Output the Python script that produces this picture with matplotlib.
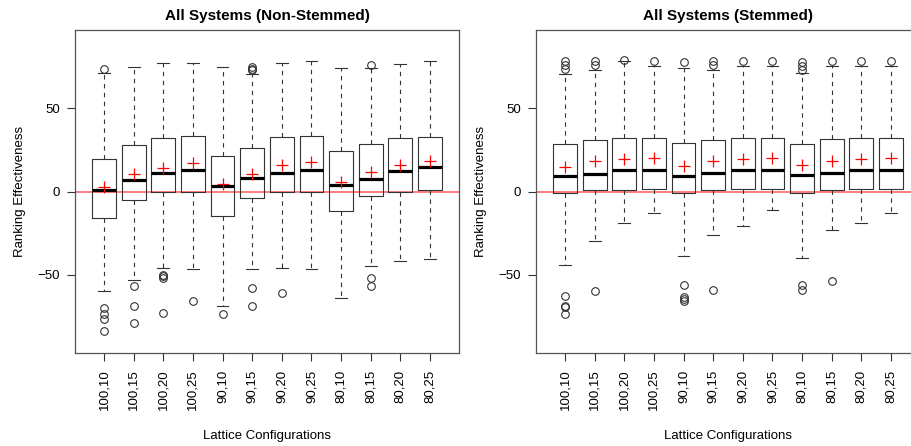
import matplotlib.pyplot as plt
from matplotlib import rcParams

rcParams['font.family'] = ['Liberation Sans', 'DejaVu Sans']

# 格子配置
configs = ["100,10", "100,15", "100,20", "100,25", "90,10", "90,15",
           "90,20", "90,25", "80,10", "80,15", "80,20", "80,25"]

# Non-Stemmed
ns_q1 = [-16, -5, 0, 0, -15, -4, 0, 0, -11.5, -3, 0, 0.8]
ns_med = [0.8, 7.2, 11.2, 13, 3.4, 8.3, 11.2, 13, 3.8, 7.8, 12.2, 14.5]
ns_q3 = [19.6, 27.7, 31.9, 33.7, 21.5, 26.3, 32.9, 33.7, 24.1, 28.3, 32.5, 32.9]
ns_lo = [-60, -53, -46, -46.8, -68.9, -46.8, -46, -46.8, -63.9, -45, -41.8, -40.8]
ns_hi = [71.3, 75, 77.5, 77.5, 75, 71, 77.5, 78.3, 74.3, 74.3, 76.5, 78.3]
ns_mean = [3, 10.8, 14.4, 17.2, 4.8, 10.8, 15.8, 17.6, 5.8, 11.8, 16.1, 18.4]
ns_out = [[74, -70, -73.5, -77, -84], [-57, -69, -79], [-50, -51, -52, -73], [-66],
          [-74], [73, 74, 75, -58, -69], [-61], [], [], [76, -52, -57], [], []]

# Stemmed
st_q1 = [-0.8, 0.8, 0.8, 1.8, -0.8, 0.8, 1.8, 1.8, -0.8, 0.8, 1.8, 1.8]
st_med = [9.6, 10.4, 12.7, 12.7, 9.4, 11, 12.7, 12.7, 10.2, 11.4, 12.7, 12.7]
st_q3 = [28.7, 30.7, 32.5, 32.5, 29.3, 30.7, 31.9, 32.5, 28.7, 31.3, 31.9, 32.5]
st_lo = [-44, -29.8, -18.7, -12.7, -39, -25.9, -20.9, -10.9, -40, -22.9, -18.7, -12.7]
st_hi = [70.5, 73.3, 78.7, 75.7, 74.1, 73.3, 75.7, 75.7, 71.4, 75.7, 75.7, 75.7]
st_mean = [14.8, 18.1, 19.3, 19.9, 15.4, 18.3, 19.5, 20.3, 15.8, 18.4, 19.3, 20]
st_out = [[74, 76.3, 78.7, -63, -69, -69.5, -74], [76.3, 78.7, -60], [79], [78.7],
          [78.2, -56, -63.5, -65, -66], [76.3, 78.7, -59], [78.7], [78.7],
          [73, 75.4, 78.2, -56, -59], [78.7, -54], [78.7], [78.7]]

line_col = '#333333'


def draw_panel(ax, title, q1, med, q3, lo, hi, mean, out):
    stats = []
    for i in range(len(configs)):
        stats.append({'q1': q1[i], 'med': med[i], 'q3': q3[i], 'whislo': lo[i],
                      'whishi': hi[i], 'mean': mean[i], 'fliers': out[i]})
    ax.bxp(stats, positions=range(1, len(configs) + 1), widths=0.8, capwidths=0.4,
           showmeans=True,
           boxprops=dict(color=line_col, linewidth=0.8),
           medianprops=dict(color='black', linewidth=2.3, solid_capstyle='butt'),
           whiskerprops=dict(color=line_col, linewidth=0.8, linestyle=(0, (4, 4))),
           capprops=dict(color=line_col, linewidth=0.8),
           flierprops=dict(marker='o', markersize=5.5, markerfacecolor='none',
                           markeredgecolor=line_col, markeredgewidth=0.8),
           meanprops=dict(marker='+', markersize=8, markeredgecolor='red',
                          markeredgewidth=0.9))
    ax.axhline(0, color='red', alpha=0.55, linewidth=1.3, zorder=0)
    ax.set_xlim(0.02, 12.98)
    ax.set_ylim(-97.2, 97.2)
    ax.set_yticks([-50, 0, 50])
    ax.set_xticks(range(1, len(configs) + 1))
    ax.set_xticklabels(configs, rotation=90, fontsize=9.5)
    ax.tick_params(axis='y', labelsize=9.5, length=6, color=line_col, pad=5)
    ax.tick_params(axis='x', length=6, color=line_col, pad=6)
    for s in ax.spines.values():
        s.set_color('#555555')
        s.set_linewidth(0.9)
    ax.set_title(title, fontsize=11, fontweight='bold', pad=7)
    ax.set_xlabel('Lattice Configurations', fontsize=9.5, labelpad=14)
    ax.set_ylabel('Ranking Effectiveness', fontsize=9.5, labelpad=8)


fig = plt.figure(figsize=(9.12, 4.46), dpi=100)
ax1 = fig.add_axes([75 / 912, 93 / 446, 384 / 912, 323 / 446])
ax2 = fig.add_axes([536 / 912, 93 / 446, 384 / 912, 323 / 446])

draw_panel(ax1, 'All Systems (Non-Stemmed)', ns_q1, ns_med, ns_q3, ns_lo, ns_hi, ns_mean, ns_out)
draw_panel(ax2, 'All Systems (Stemmed)', st_q1, st_med, st_q3, st_lo, st_hi, st_mean, st_out)

plt.savefig('out.png', dpi=100)
